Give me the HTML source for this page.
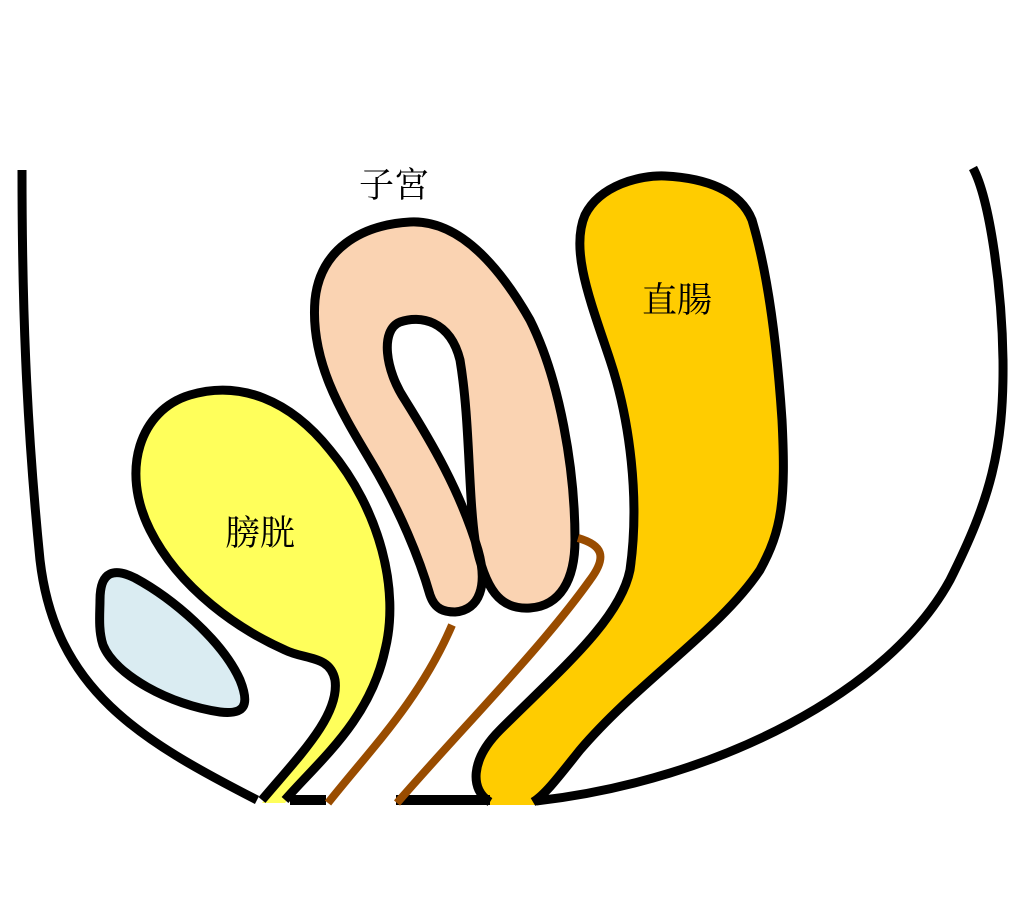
<!DOCTYPE html>
<html><head><meta charset="utf-8"><style>
html,body{margin:0;padding:0;background:#fff;}
svg{display:block}
text{font-family:"Liberation Serif","Noto Serif CJK SC",serif;font-size:35px;fill:#000}
</style></head><body>
<svg width="1024" height="911" viewBox="0 0 1024 911" xmlns="http://www.w3.org/2000/svg">
<g fill="none" stroke="#000" stroke-width="9">
<path d="M22,170 C22,300 26,420 40,560 C55,690 140,740 257,800"/>
<path d="M973,168 C990,200 1002,290 1003,360 C1004,450 990,500 950,580 C890,690 720,780 536,801"/>
</g>
<path d="M262,803 C300,755 340,715 335,680 C330,655 305,660 285,650 C240,630 180,590 150,530 C120,470 140,410 190,395 C240,380 290,400 330,450 C380,510 400,590 385,650 C370,720 320,760 285,803 Z" fill="#ffff5b"/>
<path d="M262,800 C300,755 340,715 335,680 C330,655 305,660 285,650 C240,630 180,590 150,530 C120,470 140,410 190,395 C240,380 290,400 330,450 C380,510 400,590 385,650 C370,720 320,760 285,800" fill="none" stroke="#000" stroke-width="9"/>
<path d="M100,600 C100,570 115,568 135,578 C172,598 222,640 240,680 C250,705 245,715 220,712 C170,705 115,675 103,645 C98,630 100,612 100,600 Z" fill="#daecf2" stroke="#000" stroke-width="9"/>
<path d="M455,612 C480,610 488,585 478,550 C460,490 430,440 405,400 C385,370 380,330 400,322 C420,315 450,320 460,360 C470,420 468,490 475,540 C485,590 500,610 530,608 C560,606 575,580 575,540 C575,470 560,380 530,320 C490,250 450,220 410,222 C360,225 320,250 315,300 C310,360 340,410 370,460 C400,510 420,560 430,595 C435,610 445,612 455,612 Z" fill="#fad3b2" stroke="#000" stroke-width="9"/>
<path d="M490,805 C470,790 470,760 500,730 C560,670 620,620 630,570 C640,500 630,420 610,360 C590,300 570,250 585,215 C600,185 640,175 665,176 C705,178 740,190 752,220 C770,280 778,360 782,420 C786,500 782,530 760,570 C720,630 640,680 580,750 C560,775 545,795 535,805 Z" fill="#ffcc00"/>
<path d="M490,802 C470,790 470,760 500,730 C560,670 620,620 630,570 C640,500 630,420 610,360 C590,300 570,250 585,215 C600,185 640,175 665,176 C705,178 740,190 752,220 C770,280 778,360 782,420 C786,500 782,530 760,570 C720,630 640,680 580,750 C560,775 545,795 533,802" fill="none" stroke="#000" stroke-width="9"/>
<g stroke="#000" stroke-width="10">
<line x1="290" y1="800" x2="326" y2="800"/>
<line x1="396" y1="800" x2="490" y2="800"/>
</g>
<g fill="none" stroke="#994c00" stroke-width="8">
<path d="M452,625 C420,700 370,750 328,803"/>
<path d="M397,803 C460,730 540,650 590,580 C608,556 602,545 578,538"/>
</g>
<text x="359" y="197">子宮</text>
<text x="225" y="545">膀胱</text>
<text x="642" y="312">直腸</text>
</svg>
</body></html>
